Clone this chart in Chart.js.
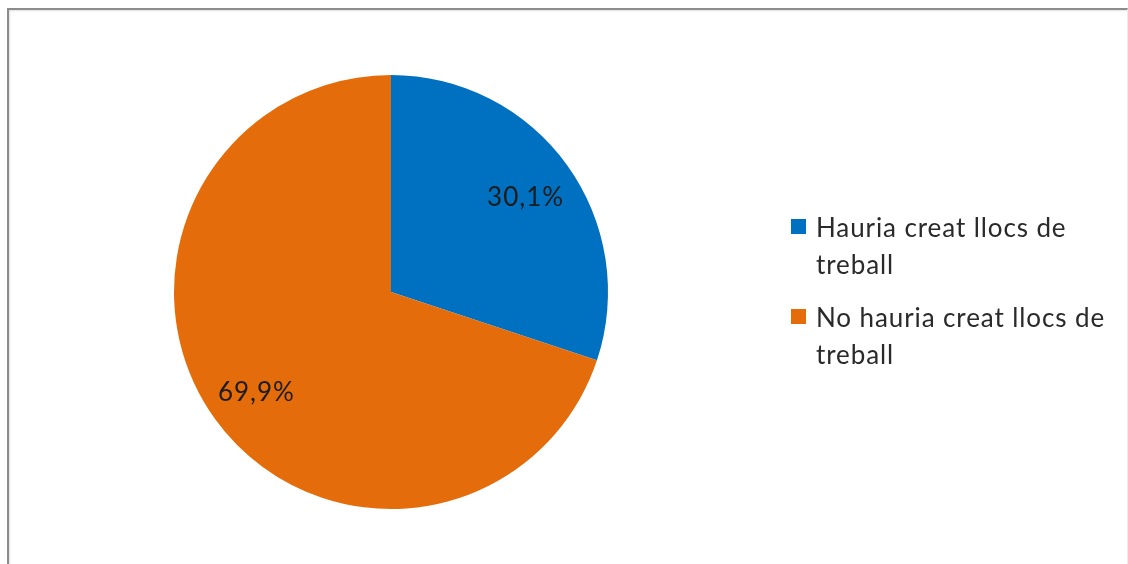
<!DOCTYPE html>
<html>
<head>
<meta charset="utf-8">
<script src="https://cdn.jsdelivr.net/npm/chart.js@4"></script>
<style>
  html, body { margin: 0; padding: 0; background: #fff; }
  body { width: 1128px; height: 564px; position: relative; overflow: hidden; font-family: Lato, "Noto Sans", sans-serif; }
  #frame {
    position: absolute; left: 7px; top: 8px; width: 1118px; height: 570px;
    border-top: 2px solid #8c8c8c; border-left: 2px solid #8c8c8c; border-right: 1px solid #ececec;
    box-shadow: inset 1px 1px 2px rgba(0,0,0,0.12);
  }
  #wrap { position: absolute; left: 0; top: 0; width: 1128px; height: 564px; }
  #legend { position: absolute; left: 791px; top: 209px; width: 330px; }
  .item { position: relative; padding-left: 25px; font-size: 26px; letter-spacing: 0.9px; line-height: 37px; color: #2a2a2a; margin-bottom: 16px; }
  .box { position: absolute; left: 0; top: 10px; width: 15px; height: 15px; }
</style>
</head>
<body>
<div id="frame"></div>
<div id="wrap"><canvas id="pieChart" width="1128" height="564"></canvas></div>
<div id="legend"></div>
<script>
const labels = ['Hauria creat llocs de treball', 'No hauria creat llocs de treball'];
const values = [30.1, 69.9];
const valueLabels = ['30,1%', '69,9%'];
const sliceColors = ['#0070c0', '#e46c0a'];

// percentage text inside each slice
const sliceLabels = {
  id: 'sliceLabels',
  afterDatasetsDraw(chart) {
    const ctx = chart.ctx;
    const arcs = chart.getDatasetMeta(0).data;
    ctx.save();
    ctx.font = '26px Lato, "Noto Sans", sans-serif';
    ctx.letterSpacing = '1px';
    ctx.fillStyle = '#1c1c1c';
    ctx.textAlign = 'center';
    ctx.textBaseline = 'middle';
    arcs.forEach((arc, i) => {
      const mid = (arc.startAngle + arc.endAngle) / 2;
      const r = arc.outerRadius * 0.765;
      ctx.fillText(valueLabels[i], arc.x + Math.cos(mid) * r, arc.y + Math.sin(mid) * r + 3);
    });
    ctx.restore();
  }
};

const chart = new Chart(document.getElementById('pieChart'), {
  type: 'pie',
  data: {
    labels: labels,
    datasets: [{
      data: values,
      backgroundColor: sliceColors,
      borderWidth: 0
    }]
  },
  options: {
    responsive: false,
    animation: false,
    layout: { padding: { left: 174, right: 520, top: 75, bottom: 55 } },
    plugins: {
      legend: { display: false },
      tooltip: { enabled: false }
    }
  },
  plugins: [sliceLabels]
});

const legend = document.getElementById('legend');
labels.forEach((text, i) => {
  const item = document.createElement('div');
  item.className = 'item';
  const box = document.createElement('span');
  box.className = 'box';
  box.style.background = sliceColors[i];
  item.appendChild(box);
  item.appendChild(document.createTextNode(text));
  legend.appendChild(item);
});
</script>
</body>
</html>
